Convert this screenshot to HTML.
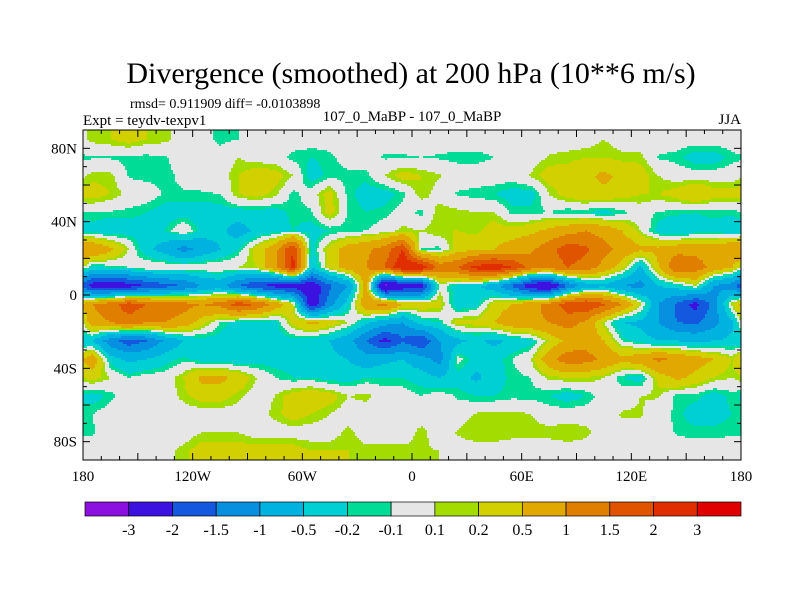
<!DOCTYPE html>
<html><head><meta charset="utf-8"><style>
body{margin:0;background:#fff;}
svg text{font-family:"Liberation Serif",serif;fill:#000;}
</style></head><body>
<svg id="chart" width="800" height="600" viewBox="0 0 800 600" xmlns="http://www.w3.org/2000/svg">
<rect width="800" height="600" fill="#fff"/>
<text x="411" y="83" font-size="30" text-anchor="middle">Divergence (smoothed) at 200 hPa (10**6 m/s)</text>
<text x="130" y="108" font-size="14">rmsd= 0.911909 diff= -0.0103898</text>
<text x="83" y="125" font-size="15">Expt = teydv-texpv1</text>
<text x="412" y="121" font-size="15" text-anchor="middle">107_0_MaBP - 107_0_MaBP</text>
<text x="741" y="124" font-size="15" text-anchor="end">JJA</text>
<g id="field"></g>
<rect x="83" y="130" width="658" height="330" fill="none" stroke="#000" stroke-width="1"/>
<g id="axes"></g>
<g id="cbar"></g>
</svg>
<script>
const levels=[-3,-2,-1.5,-1,-0.5,-0.2,-0.1,0.1,0.2,0.5,1,1.5,2,3];
const levelLabels=["-3","-2","-1.5","-1","-0.5","-0.2","-0.1","0.1","0.2","0.5","1","1.5","2","3"];
const colors=["#8c10e0","#3c12e0","#1458e0","#0890e0","#00b2e0","#00d0d4","#00dc96","#e6e6e6","#a2dc00","#d2d000","#e0a800","#e07e00","#e05400","#e02e00","#e00000"];
const lonTicks=["180","120W","60W","0","60E","120E","180"];
const latTicks=["80N","40N","0","40S","80S"];
const latTickVals=[80,40,0,-40,-80];
const lonTickVals=[-180,-120,-60,0,60,120,180];
// rows: 85N..85S (10 deg), cols: 175W..175E (10 deg)
const r0=[0.15,0.2,0.3,0.2,0.15,0,0,-0.15,-0.1,0,0,0,0,0,0,0,0,0, 0,0,0,0,0,0,0,0,0,0,0.1,0,0,0,0,0,0,0];
const r1=[-0.12,-0.12,-0.15,-0.15,-0.12,0,0,0,0.1,0,0,-0.15,-0.2,-0.15,0,0,-0.12,-0.12, -0.1,-0.12,-0.15,-0.15,-0.1,0,0,0.12,0.15,0.2,0.2,0.15,0.15,-0.12,-0.15,-0.3,-0.3,-0.15];
const r2=[0.15,0.15,-0.12,-0.15,-0.15,-0.05,0,0,0.2,0.35,0.3,0.1,-0.3,-0.15,-0.15,-0.15,0.1,0.3, 0.2,0.12,0,0,0,0,0.12,0.3,0.3,0.4,0.6,0.4,0.3,0.1,0,0,0,0];
const r3=[0.3,0.2,0.05,0,-0.12,-0.12,-0.12,-0.1,0.2,0.3,0.15,-0.15,0,0.3,-0.15,-0.3,-0.3,-0.15, 0.2,0,-0.12,-0.15,-0.2,-0.3,-0.3,0.1,0.3,0.4,0.4,0.3,0.2,0.2,0.3,0.5,0.3,0.3];
const r4=[-0.1,-0.12,-0.15,-0.2,-0.3,-0.3,-0.3,-0.3,-0.3,-0.3,-0.3,-0.15,-0.12,0.3,-0.12,-0.2,-0.15,0, -0.15,0.2,0.15,0.1,0.12,-0.15,-0.15,-0.1,-0.2,-0.2,-0.3,-0.15,0,-0.12,-0.15,-0.2,-0.15,-0.15];
const r5=[-0.3,-0.4,-0.3,-0.3,-0.2,0.1,-0.3,-0.4,-0.7,-0.4,-0.3,-0.2,-0.3,-0.2,-0.15,-0.1,0,0.15, 0.1,0.2,0.2,0.15,0.3,0.3,0.4,0.6,0.8,1.0,0.8,0.5,0.1,-0.3,-0.5,-0.3,-0.3,-0.4];
const r6=[1.0,0.6,0.1,-0.4,-0.7,-1.2,-0.8,-0.5,-0.2,0.3,0.8,2.0,-0.3,0.3,0.7,0.9,1.2,2.0, -0.1,-0.15,0.3,0.4,0.5,0.7,0.9,1.3,1.8,1.6,1.2,0.8,0.6,0.6,0.8,0.8,0.8,1.0];
const r7=[-0.3,-0.2,-0.1,0.1,0.1,0.1,0.1,0.1,0.1,0.2,0.8,2.2,-0.5,0.3,0.7,1.0,1.5,2.5, 2.5,1.3,1.5,2.2,2.4,2.0,1.3,1.2,1.5,1.3,0.8,0.3,-0.6,0.5,1.5,1.3,0.8,0.5];
const r8=[-2.3,-2.5,-2.3,-2,-1.7,-1.5,-1.0,-0.8,-1.5,-2.0,-2.2,-2.3,-2.5,-1.6,-1.0,0.7,-3.3,-2.5, -2.5,0,-0.3,-0.4,-0.8,-1.6,-2.5,-2.8,-1.5,-0.8,-0.6,-1.0,-1.2,-0.5,-0.3,0.1,-1.0,-1.3];
const r9=[1.0,1.3,1.8,1.5,1.3,1.2,1.0,1.2,1.8,1.5,0.8,0.2,-2.5,-1.2,-0.3,0.9,1.2,0.5, 0.4,0.3,-0.4,-0.3,0.3,0.5,0.8,1.2,1.8,2.0,1.6,1.0,0.2,-1.0,-1.6,-2.2,-1.3,0.2];
const r10=[0.8,1.0,1.3,1.0,1.0,0.8,0.3,-0.1,-0.3,-0.3,-0.3,0.3,0.6,0.4,0.1,-0.4,-0.8,-1.0, -0.3,-0.2,0.3,0.3,0.5,0.8,0.9,1.0,1.2,0.9,0.1,-0.5,-0.6,-1.0,-1.5,-1.6,-1.2,-0.6];
const r11=[-0.5,-1.3,-1.8,-1.5,-0.9,-0.5,-0.3,-0.3,-0.4,-0.4,-0.3,-0.3,-0.3,-0.5,-0.8,-1.5,-2.2,-1.6, -2.0,-1.0,-0.6,-0.4,-0.6,-0.4,-0.3,0.2,0.6,0.8,0.5,-0.1,-0.3,-0.5,-0.5,-0.6,-0.5,-0.4];
const r12=[0.8,-0.3,-0.6,-0.5,-0.3,-0.15,-0.3,-0.3,-0.4,-0.3,-0.3,-0.3,-0.4,-0.4,-0.5,-0.8,-0.6,-0.5, -0.8,-1.2,0,-0.3,-0.3,-0.1,0.1,0.8,1.3,1.2,0.9,0.6,0.8,1.1,0.9,0.7,0.5,0.2];
const r13=[0.3,0.1,-0.1,0,0,0.2,0.6,0.6,0.4,0.1,-0.1,-0.2,-0.2,-0.3,-0.3,-0.2,-0.2,-0.2, -0.3,-0.5,-0.3,-0.6,-0.3,-0.15,-0.1,0.15,0.2,0.2,0.1,-0.2,-0.3,0.3,0.6,0.4,0.2,0.1];
const r14=[-0.3,-0.15,0,0,0,0.15,0.3,0.3,0.15,0,0.1,0.3,0.4,0.3,0.1,0.15,0,0, -0.1,0,-0.12,-0.2,-0.2,-0.15,-0.15,-0.2,-0.3,-0.2,0,0,0.1,0.12,-0.15,-0.15,-0.3,-0.15];
const r15=[-0.1,0,0,0,0,0,0,0,0,0,0.15,0.3,0.2,0.1,0,0,0,0, 0,0,0,0.12,0.15,0.15,0.1,0,0,0,0,0.12,0.12,0,-0.15,-0.3,-0.3,-0.2];
const r16=[-0.12,0,0,0,0,0,0.1,0.1,0.1,0,0,0,0,0,0.15,0,0,0, 0.15,0,0.12,0.2,0.2,0.15,0.15,0.15,0.2,0.15,0,0,0,0,-0.12,-0.15,-0.15,-0.12];
const r17=[0,0,0,0,0.05,0.15,0.3,0.3,0.3,0.3,0.3,0.3,0.2,0.2,0.2,0.15,0.15,0.15, 0.12,0.1,0,0,0,0,0,0,0,0,0,0,0,0,0,0,0,0];
const grid=[r0,r1,r2,r3,r4,r5,r6,r7,r8,r9,r10,r11,r12,r13,r14,r15,r16,r17];

const NS="http://www.w3.org/2000/svg";
const X0=83,X1=741,Y0=130,Y1=460;
function xOf(lon){return X0+(lon+180)/360*(X1-X0);}
function yOf(lat){return Y0+(90-lat)/180*(Y1-Y0);}
function lonOf(x){return (x-X0)/(X1-X0)*360-180;}
function latOf(y){return 90-(y-Y0)/(Y1-Y0)*180;}
function level(v){let k=0;while(k<levels.length&&v>=levels[k])k++;return k;}
function sample(lon,lat){
  const nr=grid.length,nc=grid[0].length;
  let fc=(lon+180)/10-0.5; let fr=(90-lat)/10-0.5;
  fr=Math.max(0,Math.min(nr-1,fr));
  const r0i=Math.floor(fr),r1i=Math.min(nr-1,r0i+1),tr=fr-r0i;
  let c0=Math.floor(fc),tc=fc-c0; const c0i=((c0%nc)+nc)%nc,c1i=(c0i+1)%nc;
  const a=grid[r0i][c0i]*(1-tc)+grid[r0i][c1i]*tc;
  const b=grid[r1i][c0i]*(1-tc)+grid[r1i][c1i]*tc;
  return a*(1-tr)+b*tr;
}
const field=document.getElementById('field');
const step=2;
for(let y=Y0;y<Y1;y+=step){
  let runStart=X0,runK=null;
  for(let x=X0;x<=X1;x+=step){
    const k=x<X1?level(sample(lonOf(x+step/2),latOf(y+step/2))):-1;
    if(runK===null){runK=k;runStart=x;continue;}
    if(k!==runK){
      const r=document.createElementNS(NS,'rect');
      
      
      r.setAttribute('x',runStart);r.setAttribute('y',y);
      r.setAttribute('width',Math.min(x,X1)-runStart);r.setAttribute('height',Math.min(step,Y1-y));
      r.setAttribute('fill',colors[runK]);
      field.appendChild(r);
      runK=k;runStart=x;
    }
  }
}
const axes=document.getElementById('axes');
function line(x1,y1,x2,y2,name){const l=document.createElementNS(NS,'line');
  
  
  l.setAttribute('x1',x1);l.setAttribute('y1',y1);l.setAttribute('x2',x2);l.setAttribute('y2',y2);l.setAttribute('stroke','#000');axes.appendChild(l);}
function text(x,y,s,anchor,size,name){const t=document.createElementNS(NS,'text');
  
  
  t.setAttribute('x',x);t.setAttribute('y',y);t.setAttribute('text-anchor',anchor);t.setAttribute('font-size',size);t.textContent=s;axes.appendChild(t);}
for(let lon=-180;lon<=180;lon+=10){const x=xOf(lon);const L=lon%30===0?7:4;line(x,Y1,x,Y1-L,'x-tick');line(x,Y0,x,Y0+L,'x-tick-top');}
for(let lat=-90;lat<=90;lat+=10){const y=yOf(lat);const L=lat%20===0?7:4;line(X0,y,X0+L,y,'y-tick');line(X1,y,X1-L,y,'y-tick-right');}
lonTicks.forEach((s,i)=>text(xOf(lonTickVals[i]),481,s,'middle',15,'x-tick-label'));
latTicks.forEach((s,i)=>text(77,yOf(latTickVals[i])+5,s,'end',15,'y-tick-label'));
const cb=document.getElementById('cbar');
const CB0=85,CB1=741,CBY=502,CBH=14,bw=(CB1-CB0)/colors.length;
colors.forEach((c,i)=>{const r=document.createElementNS(NS,'rect');
  
  
  r.setAttribute('x',CB0+i*bw);r.setAttribute('y',CBY);r.setAttribute('width',bw);r.setAttribute('height',CBH);r.setAttribute('fill',c);r.setAttribute('stroke','#000');r.setAttribute('stroke-width','0.7');cb.appendChild(r);});
levelLabels.forEach((s,i)=>{const t=document.createElementNS(NS,'text');
  
  
  t.setAttribute('x',CB0+(i+1)*bw);t.setAttribute('y',535);t.setAttribute('text-anchor','middle');t.setAttribute('font-size','16');t.textContent=s;cb.appendChild(t);});
</script>
</body></html>
